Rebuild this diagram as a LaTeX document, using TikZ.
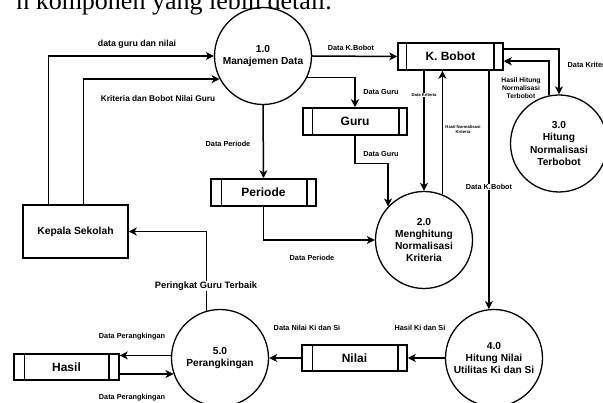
\documentclass[tikz,border=0pt]{standalone}
\usepackage{fontspec}
\setmainfont{Liberation Sans}
\newfontfamily\serifpage{Liberation Serif}
\usetikzlibrary{arrows.meta}
\tikzset{
  ln/.style={line width=1.5pt, line join=miter},
  arr/.style={ln, -{Stealth[length=8pt,width=8pt,inset=2.2pt]}},
  proc/.style={circle, draw, line width=1.3pt, minimum size=97pt, inner sep=0pt, align=center, font=\bfseries\fontsize{10.2}{12.2}\selectfont},
  store/.style={rectangle, draw, line width=1.5pt, minimum width=105pt, minimum height=27pt, inner sep=0pt, font=\bfseries\fontsize{12}{14}\selectfont},
  ent/.style={rectangle, draw, line width=1.5pt, minimum width=105pt, minimum height=53pt, inner sep=0pt, font=\bfseries\fontsize{10.3}{12}\selectfont},
  lbl/.style={inner sep=0.5pt, font=\bfseries\fontsize{7.3}{8.5}\selectfont, align=center},
  mlbl/.style={inner sep=0.5pt, font=\bfseries\fontsize{8.8}{10}\selectfont, align=center},
  tlbl/.style={inner sep=0.3pt, font=\bfseries\fontsize{4.2}{5}\selectfont, align=center},
  wlbl/.style={fill=white}
}
\newcommand{\storelines}[3]{%
  \draw[ln] ([xshift=#2pt]#1.north west) -- ([xshift=#2pt]#1.south west);
  \draw[ln] ([xshift=-#3pt]#1.north east) -- ([xshift=-#3pt]#1.south east);}
\begin{document}
\begin{tikzpicture}[x=1pt,y=-1pt]
\useasboundingbox (0,0) rectangle (603,403);
\clip (0,0) rectangle (603,403);

% cut-off text line at top
\node[anchor=base east, inner sep=0pt, font=\serifpage\fontsize{26}{30}\selectfont] (toptext) at (332,10) {n komponen yang lebih detail.};

% processes
\node[proc] (c1) at (263,56) {1.0\\Manajemen Data};
\node[proc] (c2) at (424,240) {2.0\\Menghitung\\Normalisasi\\Kriteria};
\node[proc] (c3) at (559,143.5) {3.0\\Hitung\\Normalisasi\\Terbobot};
\node[proc] (c4) at (494,358) {4.0\\Hitung Nilai\\Utilitas Ki dan Si};
\node[proc] (c5) at (220,358) {5.0\\Perangkingan};

% entity
\node[ent] (kep) at (75.5,231.5) {Kepala Sekolah};

% stores
\node[store] (kb) at (450.5,56.5) {K. Bobot};
\node[store, minimum width=104pt] (guru) at (355,121.5) {Guru};
\node[store] (per) at (263.5,192.5) {Periode};
\node[store, minimum height=26pt] (nil) at (354.5,358) {Nilai};
\node[store, minimum height=26pt] (has) at (66.5,367) {Hasil};
\storelines{kb}{9}{10}
\storelines{guru}{10}{9}
\storelines{per}{11}{10}
\storelines{nil}{11}{10}
\storelines{has}{11}{11}

% connectors
\draw[arr] ([xshift=26pt]kep.north west) |- (c1.180);
\draw[arr] ([xshift=61pt]kep.north west) |- (c1.208);
\draw[arr] (c5.106) |- (kep.east);
\draw[arr] (c5.177) -- (c5.177 -| has.east);
\draw[arr] (c5.199.5 -| has.east) -- (c5.199.5);
\draw[arr] (nil.west) -- (c5.east);
\draw[arr] (c4.west) -- (nil.east);
\draw[arr] (c4.96 |- kb.south) -- (c4.96);
\draw[arr] (c1.east) -- (kb.west);
\draw[arr] (c1.334) -| (guru.north);
\draw[arr] (c1.south) -- (per.north);
\draw[arr] (per.south) |- (c2.west);
\draw[arr] (guru.south) -- ++(0,28) -| (c2.137);
\draw[arr] (kb.south -| c2.north) -- (c2.north);
\draw[arr] (c2.68) -- (c2.68 |- kb.south);
\draw[arr] ([yshift=-7pt]kb.north east) -| (c3.north);
\draw[arr] (c3.102) |- ([yshift=-19pt]kb.north east);

% labels
\node[mlbl] (l1) at (137,44) {data guru dan nilai};
\node[mlbl, font=\bfseries\fontsize{8.3}{10}\selectfont] (l2) at (158,99) {Kriteria dan Bobot Nilai Guru};
\node[lbl] (l3) at (351,48) {Data K.Bobot};
\node[lbl] (l4) at (381,92) {Data Guru};
\node[lbl] (l5) at (228,144) {Data Periode};
\node[lbl] (l6) at (381,154) {Data Guru};
\node[lbl] (l7) at (312,258) {Data Periode};
\node[tlbl, wlbl] (l8) at (424,95) {Data Kriteria};
\node[tlbl] (l9) at (463,129.5) {Hasil Normalisasi\\Kriteria};
\node[lbl, font=\bfseries\fontsize{6.7}{8}\selectfont] (l10) at (521,88) {Hasil Hitung\\Normalisasi\\Terbobot};
\node[lbl, anchor=west] (l11) at (567,65) {Data Kriteria};
\node[lbl, wlbl] (l12) at (489,187) {Data K.Bobot};
\node[mlbl, wlbl, font=\bfseries\fontsize{9.3}{10}\selectfont] (l13) at (206,286) {Peringkat Guru Terbaik};
\node[lbl] (l14) at (307,328) {Data Nilai Ki dan Si};
\node[lbl] (l15) at (420,328) {Hasil Ki dan Si};
\node[lbl] (l16) at (132,337) {Data Perangkingan};
\node[lbl] (l17) at (132,398) {Data Perangkingan};
\end{tikzpicture}
\end{document}
